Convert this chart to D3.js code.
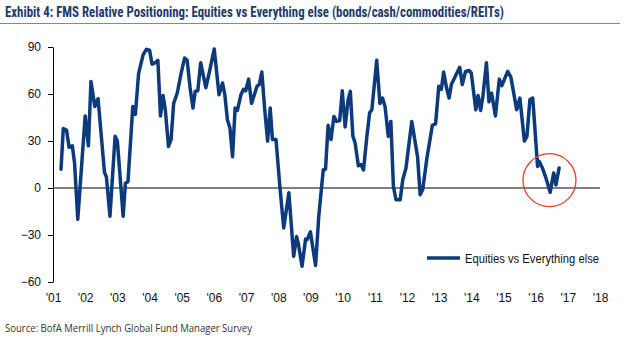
<!DOCTYPE html>
<html>
<head>
<meta charset="utf-8">
<script src="https://cdn.jsdelivr.net/npm/d3@7"></script>
<style>
    body { margin: 0; background: #fff; }
    svg { display: block; }
</style>
</head>
<body>
<div id="chart"></div>
<script>
// dates as decimal years
const years = [
    2001.25, 2001.32, 2001.42, 2001.50, 2001.60, 2001.67, 2001.77, 2002.00, 2002.10, 2002.18,
    2002.30, 2002.40, 2002.60, 2002.66, 2002.77, 2002.93, 2003.00, 2003.18, 2003.25, 2003.33,
    2003.48, 2003.56, 2003.66, 2003.80, 2003.90, 2004.00, 2004.08, 2004.18, 2004.26, 2004.34,
    2004.42, 2004.49, 2004.59, 2004.67, 2004.75, 2004.86, 2004.98, 2005.09, 2005.17, 2005.26,
    2005.35, 2005.42, 2005.50, 2005.59, 2005.75, 2005.85, 2006.01, 2006.16, 2006.27, 2006.34,
    2006.42, 2006.50, 2006.58, 2006.66, 2006.73, 2006.84, 2006.92, 2006.99, 2007.08, 2007.17,
    2007.25, 2007.34, 2007.41, 2007.49, 2007.58, 2007.67, 2007.75, 2007.82, 2007.93, 2008.05,
    2008.17, 2008.33, 2008.48, 2008.57, 2008.62, 2008.74, 2008.85, 2008.90, 2009.00, 2009.16,
    2009.26, 2009.40, 2009.47, 2009.55, 2009.64, 2009.73, 2009.81, 2009.91, 2009.99, 2010.08,
    2010.17, 2010.24, 2010.32, 2010.39, 2010.49, 2010.57, 2010.65, 2010.75, 2010.84, 2010.91,
    2011.06, 2011.16, 2011.24, 2011.32, 2011.42, 2011.50, 2011.58, 2011.66, 2011.79, 2011.87,
    2011.97, 2012.15, 2012.25, 2012.33, 2012.41, 2012.49, 2012.62, 2012.79, 2012.89, 2012.99,
    2013.07, 2013.14, 2013.23, 2013.31, 2013.38, 2013.52, 2013.64, 2013.72, 2013.82, 2013.93,
    2014.00, 2014.14, 2014.21, 2014.29, 2014.36, 2014.47, 2014.55, 2014.63, 2014.75, 2014.87,
    2014.95, 2015.13, 2015.23, 2015.41, 2015.51, 2015.65, 2015.73, 2015.82, 2015.91, 2016.06,
    2016.11, 2016.21, 2016.32, 2016.45, 2016.56, 2016.63, 2016.73
];
const equities = [
    12, 38, 37, 26, 27, 16, -20, 46, 27, 68,
    52, 57, 10, 7, -18, 33, 30, -18, 3, 4,
    52, 47, 73, 85, 88.5, 88, 79, 80, 81.5, 46,
    59, 50, 26.5, 31, 54, 60.5, 73, 83, 81.5, 64,
    51, 61.7, 62, 80, 64, 73, 88.7, 59.5, 67, 59.5,
    43.6, 38.3, 20, 51, 49.5, 59.5, 63, 62, 69.5, 54,
    59, 65, 66, 74, 50, 30, 51, 31, 31, 1,
    -25.5, -3, -43.6, -31, -35, -50, -32.6, -33, -28, -49.5,
    -18, 11.7, 12, 40, 31, 45.7, 42.5, 43, 62, 39,
    56, 61.7, 33, 28.7, 14.2, 15, 11.5, 32, 48, 50,
    81.5, 54, 57.4, 52, 33, 42.5, 1, -7.5, -7.5, 5.3,
    12.8, 42.5, 30, 20, -4.3, -1, 19, 40, 41, 65,
    63, 74, 64, 57.4, 66, 72, 77, 66, 74.4, 75,
    73.4, 50, 59, 49.5, 58.5, 80, 55, 60.6, 46, 69.5,
    65.3, 74.4, 70.8, 50, 57.4, 30, 33, 56.3, 57.4, 13.8,
    17, 12.8, 6.4, -2.8, 9.6, 2, 12.8
];
const yTicks = [-60, -30, 0, 30, 60, 90];
const xTicks = d3.range(2001, 2019);
const seriesName = "Equities vs Everything else";
const title = "Exhibit 4: FMS Relative Positioning: Equities vs Everything else (bonds/cash/commodities/REITs)";
const source = "Source: BofA Merrill Lynch Global Fund Manager Survey";

const data = years.map((y, i) => ({ year: y, value: equities[i] }));

const W = 623, H = 351;
const margin = { top: 47, right: 23, bottom: 69, left: 53 };
const width = W - margin.left - margin.right;
const height = H - margin.top - margin.bottom;
const navy = "#0c3a7d";

const svg = d3.select("#chart")
    .append("svg")
    .attr("width", W)
    .attr("height", H);

// title + rule under it
svg.append("text")
    .attr("x", 5)
    .attr("y", 17)
    .attr("font-family", "'Liberation Sans Narrow', 'Roboto Condensed', 'Liberation Sans', sans-serif")
    .attr("font-weight", "bold")
    .attr("font-size", 15)
    .attr("fill", "#1f3a6e")
    .attr("textLength", 499)
    .attr("lengthAdjust", "spacingAndGlyphs")
    .text(title);

svg.append("line")
    .attr("x1", 0).attr("x2", 620)
    .attr("y1", 23.5).attr("y2", 23.5)
    .attr("stroke", "#6a8cc4")
    .attr("stroke-width", 1);

const g = svg.append("g")
    .attr("transform", `translate(${margin.left},${margin.top})`);

const x = d3.scaleLinear().domain([2001, 2018]).range([0, width]);
const y = d3.scaleLinear().domain([-60, 90]).range([height, 0]);

// y axis
const yAxis = g.append("g")
    .call(d3.axisLeft(y).tickValues(yTicks).tickSize(5).tickSizeOuter(0).tickPadding(7));
yAxis.select(".domain").attr("stroke", "#000");
yAxis.selectAll(".tick line").attr("stroke", "#000");
yAxis.selectAll("text")
    .attr("font-family", "'Liberation Sans', Arial, sans-serif")
    .attr("font-size", 12)
    .attr("fill", "#111");

// x labels (no line; the zero line acts as the axis)
const xAxis = g.append("g")
    .attr("transform", `translate(0,${height + 8})`)
    .call(d3.axisBottom(x).tickValues(xTicks).tickSize(0)
        .tickFormat(d => "'" + String(d).slice(2)));
xAxis.select(".domain").remove();
xAxis.selectAll("text")
    .attr("font-family", "'Liberation Sans', Arial, sans-serif")
    .attr("font-size", 12)
    .attr("fill", "#111");

// zero line
g.append("line")
    .attr("x1", 0).attr("x2", width)
    .attr("y1", y(0)).attr("y2", y(0))
    .attr("stroke", "#000")
    .attr("stroke-width", 1);

const line = d3.line()
    .x(d => x(d.year))
    .y(d => y(d.value));

g.append("path")
    .datum(data)
    .attr("fill", "none")
    .attr("stroke", navy)
    .attr("stroke-width", 3.5)
    .attr("stroke-linejoin", "round")
    .attr("stroke-linecap", "round")
    .attr("d", line);

// red circle around the latest readings
const last = data.slice(-7);
const cx = d3.mean(last, d => x(d.year));
g.append("circle")
    .attr("cx", cx)
    .attr("cy", y(5))
    .attr("r", 26.5)
    .attr("fill", "none")
    .attr("stroke", "#e8402a")
    .attr("stroke-width", 1.3);

// legend
const legend = svg.append("g")
    .attr("transform", "translate(427,258)");
legend.append("line")
    .attr("x1", 0).attr("x2", 33)
    .attr("y1", 0).attr("y2", 0)
    .attr("stroke", navy)
    .attr("stroke-width", 3.5);
legend.append("text")
    .attr("x", 38)
    .attr("y", 4.5)
    .attr("font-family", "'Liberation Sans', Arial, sans-serif")
    .attr("font-size", 12)
    .attr("fill", "#111")
    .attr("textLength", 134)
    .attr("lengthAdjust", "spacingAndGlyphs")
    .text(seriesName);

// source
svg.append("text")
    .attr("x", 5)
    .attr("y", 332)
    .attr("font-family", "'Open Sans', sans-serif")
    .attr("font-size", 11)
    .attr("fill", "#333")
    .attr("textLength", 247)
    .attr("lengthAdjust", "spacingAndGlyphs")
    .text(source);
</script>
</body>
</html>
